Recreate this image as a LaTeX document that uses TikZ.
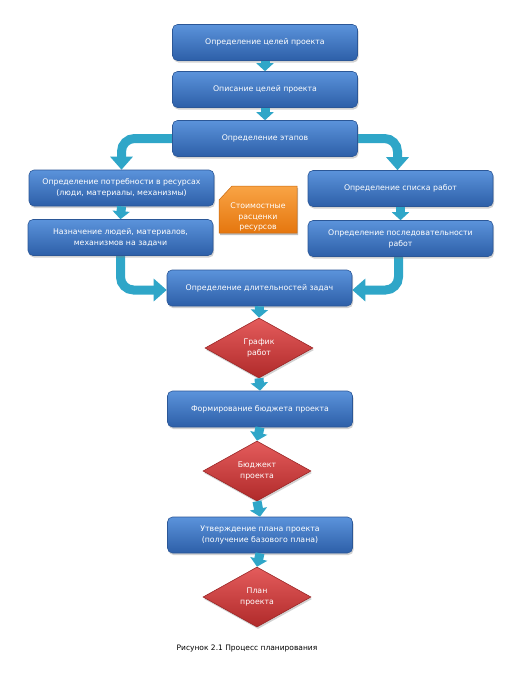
\documentclass[tikz,border=0pt]{standalone}
\usepackage{fontspec}
\setmainfont{DejaVu Sans}
\usetikzlibrary{shapes.geometric,arrows.meta,shadows,backgrounds}
\definecolor{boxtop}{HTML}{5B93DB}
\definecolor{boxbot}{HTML}{2D5FA8}
\definecolor{boxedge}{HTML}{2B5797}
\definecolor{redtop}{HTML}{E45C5C}
\definecolor{redbot}{HTML}{B02A2A}
\definecolor{rededge}{HTML}{9A2626}
\definecolor{ortop}{HTML}{F9A445}
\definecolor{orbot}{HTML}{E5760E}
\definecolor{oredge}{HTML}{C8680F}
\definecolor{arrcol}{HTML}{2FA6C8}
\begin{document}
\begin{tikzpicture}[x=1pt,y=-1pt,
  txt/.style={text=white,font=\fontsize{7.8}{11}\selectfont,align=center},
  box/.style={txt,rectangle,rounded corners=5pt,minimum width=185pt,minimum height=36pt,
    inner sep=1pt,top color=boxtop,bottom color=boxbot,draw=boxedge,line width=0.6pt,
    drop shadow={shadow xshift=1pt,shadow yshift=-2pt,opacity=0.35}},
  dia/.style={txt,diamond,aspect=2,inner sep=0pt,minimum width=108pt,minimum height=60pt,
    top color=redtop,bottom color=redbot,draw=rededge,line width=0.6pt,
    drop shadow={shadow xshift=1pt,shadow yshift=-2pt,opacity=0.35}},
  smallarr/.style={draw=arrcol,line width=9pt,-{Triangle[width=17pt,length=8pt]}},
  bigarr/.style={draw=arrcol,line width=9pt,rounded corners=13pt,-{Triangle[width=22pt,length=13pt]}},
]
\useasboundingbox (0,0) rectangle (509,681);

\node[box] (s1) at (265,42.5) {Определение целей проекта};
\node[box] (s2) at (265,89.5) {Описание целей проекта};
\node[box] (s3) at (265,138.5) {Определение этапов};
\node[box] (s4) at (121.5,188) {Определение потребности в ресурсах\\(люди, материалы, механизмы)};
\node[box] (s5) at (120.5,237.5) {Назначение людей, материалов,\\механизмов на задачи};
\node[box] (s6) at (400.5,188.5) {Определение списка работ};
\node[box] (s7) at (400.5,238.5) {Определение последовательности\\работ};
\node[box] (s8) at (259.5,288) {Определение длительностей задач};
\node[dia] (d1) at (259,348) {График\\работ};
\node[box] (s9) at (260,409) {Формирование бюджета проекта};
\node[dia] (d2) at (257,471) {Бюджект\\проекта};
\node[box] (s10) at (260,535) {Утверждение плана проекта\\(получение базового плана)};
\node[dia] (d3) at (257,597) {План\\проекта};

% note
\fill[black,opacity=0.25] (220,202) -- (233,188) -- (298,188) -- (298,235) -- (220,235) -- cycle;
\shade[top color=ortop,bottom color=orbot,draw=oredge,line width=0.5pt]
  (219,200) -- (232,186) -- (297,186) -- (297,233) -- (219,233) -- cycle;
\node[txt,font=\fontsize{7.8}{10.5}\selectfont] (n) at (258,217) {Стоимостные\\расценки\\ресурсов};

\node[font=\fontsize{7.5}{9}\selectfont,text=black] (cap) at (247,648) {Рисунок 2.1 Процесс планирования};

\begin{scope}[on background layer]
\fill[white] (0,0) rectangle (509,681);
\draw[bigarr] (s3.west) -| (s4.north);
\draw[bigarr] (s3.east) -| ([xshift=-3pt]s6.north);
\draw[bigarr] (s5.south) |- ([yshift=-2pt]s8.west);
\draw[bigarr] ([xshift=-2pt]s7.south) |- ([yshift=-2pt]s8.east);
\end{scope}

\draw[smallarr] (s1.south) -- (s2.north);
\draw[smallarr] (s2.south) -- (s3.north);
\draw[smallarr] (s4.south) -- (s5.north);
\draw[smallarr] (s6.south) -- (s7.north);
\draw[smallarr] (s8.south) -- (d1.north);
\draw[smallarr] (d1.south) -- (s9.north);
\draw[smallarr] (s9.south) -- (d2.north);
\draw[smallarr] (d2.south) -- (s10.north);
\draw[smallarr] (s10.south) -- (d3.north);
\end{tikzpicture}
\end{document}
